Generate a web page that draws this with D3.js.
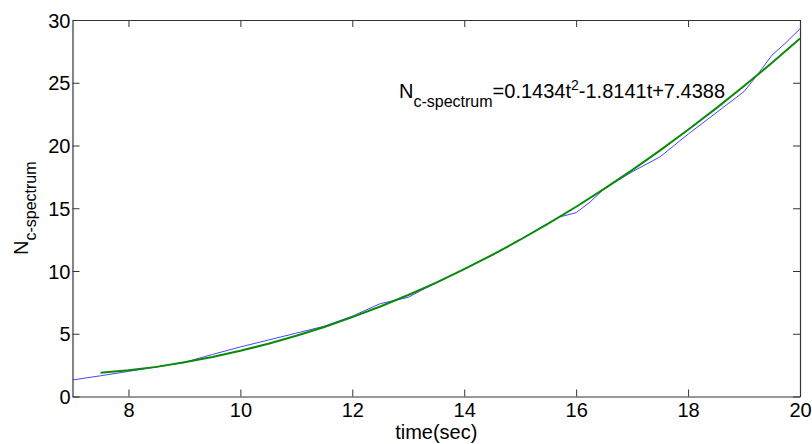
<!DOCTYPE html>
<html>
<head>
<meta charset="utf-8">
<script src="https://cdn.jsdelivr.net/npm/d3@7"></script>
<style>
  html, body { margin: 0; padding: 0; background: #fff; }
  svg { display: block; font-family: "Liberation Sans", Arial, sans-serif; }
</style>
</head>
<body>
<svg id="chart" width="812" height="444"></svg>
<script>
// Measured series (blue)
const measuredT = [7.0, 7.5, 8.0, 8.5, 9.0, 9.5, 10.0, 10.5, 11.0, 11.5, 12.0, 12.5, 12.75, 13.0, 13.25, 13.5, 14.0, 14.5, 15.0, 15.5, 15.7, 16.0, 16.25, 16.5, 17.0, 17.5, 18.0, 18.5, 19.0, 19.2, 19.5, 19.75, 20.0];
const measuredN = [1.32, 1.65, 2.0, 2.35, 2.72, 3.35, 3.95, 4.5, 5.05, 5.6, 6.4, 7.4, 7.65, 7.9, 8.5, 9.05, 10.15, 11.25, 12.5, 13.8, 14.3, 14.65, 15.5, 16.55, 17.9, 19.1, 20.9, 22.6, 24.3, 25.4, 27.2, 28.2, 29.3];
// Fitted series (green)
const fitT = [7.5, 8.0, 8.5, 9.0, 9.5, 10.0, 10.5, 11.0, 11.5, 12.0, 12.5, 13.0, 13.5, 14.0, 14.5, 15.0, 15.5, 16.0, 16.5, 17.0, 17.5, 18.0, 18.5, 19.0, 19.5, 20.0];
const fitN = [1.90, 2.10, 2.36, 2.73, 3.15, 3.64, 4.20, 4.84, 5.54, 6.32, 7.17, 8.09, 9.08, 10.15, 11.28, 12.49, 13.77, 15.12, 16.54, 18.04, 19.61, 21.25, 22.96, 24.74, 26.59, 28.52];
const xTicks = [8, 10, 12, 14, 16, 18, 20];
const yTicks = [0, 5, 10, 15, 20, 25, 30];
const xDomain = [7, 20];
const yDomain = [0, 30];

const svg = d3.select("#chart");
const L = 72.5, R = 800, T = 20, B = 396.5;
const x = d3.scaleLinear().domain(xDomain).range([L, R]);
const y = d3.scaleLinear().domain(yDomain).range([B, T]);
const axisColor = "#333";
const tickLen = 7;

const gx = svg.append("g").attr("transform", `translate(0,${B})`)
  .call(d3.axisBottom(x).tickValues(xTicks).tickSizeInner(-tickLen).tickSizeOuter(0).tickPadding(6).tickFormat(d3.format("d")));
const gy = svg.append("g").attr("transform", `translate(${L},0)`)
  .call(d3.axisLeft(y).tickValues(yTicks).tickSizeInner(-tickLen).tickSizeOuter(0).tickPadding(2).tickFormat(d3.format("d")));
const gxt = svg.append("g").attr("transform", `translate(0,${T})`)
  .call(d3.axisTop(x).tickValues(xTicks).tickSizeInner(-tickLen).tickSizeOuter(0).tickFormat(""));
const gyr = svg.append("g").attr("transform", `translate(${R},0)`)
  .call(d3.axisRight(y).tickValues(yTicks).tickSizeInner(-tickLen).tickSizeOuter(0).tickFormat(""));

[gx, gy, gxt, gyr].forEach(g => {
  g.select(".domain").attr("stroke", axisColor).attr("stroke-width", 1.2);
  g.selectAll(".tick line").attr("stroke", axisColor).attr("stroke-width", 1);
  g.selectAll(".tick text").attr("fill", "#000").style("font-size", "20px")
    .style("font-family", "'Liberation Sans', Arial, sans-serif");
});
gx.selectAll(".tick text").attr("dy", "0.71em");
gy.selectAll(".tick text").attr("dy", "0.36em");

const line = d3.line().x(d => x(d[0])).y(d => y(d[1]));
svg.append("path")
  .datum(measuredT.map((t, i) => [t, measuredN[i]]))
  .attr("fill", "none").attr("stroke", "#4646ff").attr("stroke-width", 1)
  .attr("d", line);
svg.append("path")
  .datum(fitT.map((t, i) => [t, fitN[i]]))
  .attr("fill", "none").attr("stroke", "#0a8a0a").attr("stroke-width", 2)
  .attr("d", line);

const eq = svg.append("text").attr("x", 399).attr("y", 98)
  .style("font-size", "20px").attr("fill", "#000");
eq.append("tspan").text("N");
eq.append("tspan").attr("dy", 9).style("font-size", "16px").text("c-spectrum");
eq.append("tspan").attr("dy", -9).text("=0.1434t");
eq.append("tspan").attr("dy", -8).style("font-size", "14px").text("2");
eq.append("tspan").attr("dy", 8).text("-1.8141t+7.4388");

svg.append("text").attr("x", (L + R) / 2).attr("y", 439).attr("text-anchor", "middle")
  .style("font-size", "20px").attr("fill", "#000").text("time(sec)");
const yl = svg.append("text").attr("transform", `translate(28,${(T + B) / 2}) rotate(-90)`)
  .attr("text-anchor", "middle").style("font-size", "20px").attr("fill", "#000");
yl.append("tspan").text("N");
yl.append("tspan").attr("dy", 8).style("font-size", "16px").text("c-spectrum");
</script>
</body>
</html>
